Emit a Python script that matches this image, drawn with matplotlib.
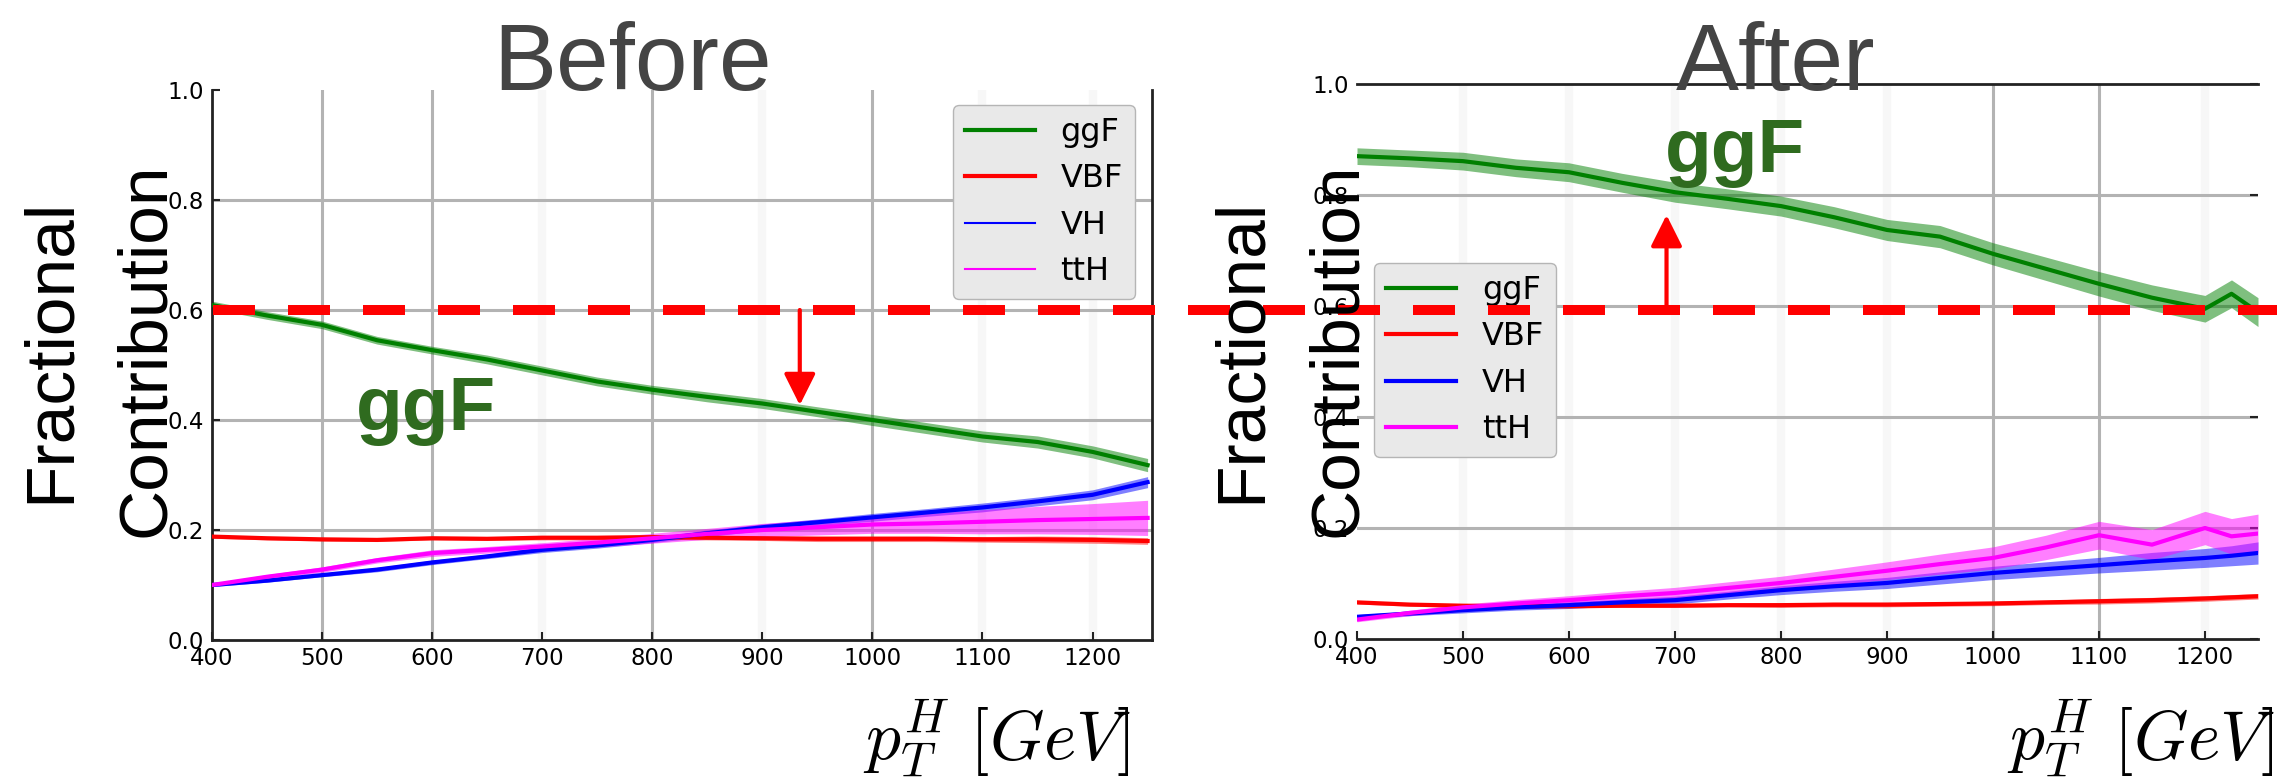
import matplotlib
matplotlib.use('Agg')
import matplotlib.pyplot as plt
import matplotlib.transforms as mtransforms
from matplotlib.lines import Line2D
import numpy as np

plt.rcParams['mathtext.fontset'] = 'cm'
plt.rcParams['font.family'] = 'DejaVu Sans'

W, H = 2277, 783

# ---- before: fractional contributions vs pT ----
pt_b = [400, 450, 500, 550, 600, 650, 700, 750, 800, 850, 900, 950, 1000, 1050, 1100, 1150, 1200, 1250]
ggf_b = [0.609, 0.590, 0.573, 0.545, 0.527, 0.510, 0.490, 0.470, 0.455, 0.442, 0.430, 0.415, 0.400, 0.385, 0.370, 0.360, 0.342, 0.318]
ggf_b_err = [0.007, 0.007, 0.007, 0.007, 0.007, 0.008, 0.008, 0.008, 0.008, 0.009, 0.009, 0.009, 0.010, 0.010, 0.010, 0.011, 0.011, 0.012]
vbf_b = [0.188, 0.185, 0.183, 0.182, 0.185, 0.184, 0.186, 0.186, 0.187, 0.186, 0.185, 0.184, 0.184, 0.184, 0.183, 0.183, 0.182, 0.180]
vbf_b_err = [0.003, 0.003, 0.003, 0.003, 0.003, 0.003, 0.004, 0.004, 0.004, 0.004, 0.004, 0.005, 0.005, 0.005, 0.005, 0.006, 0.006, 0.006]
vh_b = [0.100, 0.108, 0.118, 0.128, 0.141, 0.152, 0.164, 0.172, 0.182, 0.194, 0.205, 0.214, 0.223, 0.232, 0.241, 0.252, 0.264, 0.287]
vh_b_err = [0.003, 0.003, 0.003, 0.004, 0.004, 0.004, 0.005, 0.005, 0.005, 0.006, 0.006, 0.006, 0.007, 0.007, 0.008, 0.008, 0.009, 0.010]
tth_b = [0.100, 0.115, 0.128, 0.145, 0.158, 0.164, 0.170, 0.177, 0.185, 0.193, 0.200, 0.205, 0.210, 0.212, 0.215, 0.218, 0.220, 0.222]
tth_b_err = [0.003, 0.004, 0.005, 0.005, 0.006, 0.006, 0.007, 0.008, 0.009, 0.010, 0.012, 0.014, 0.016, 0.018, 0.022, 0.025, 0.028, 0.032]

# ---- after ----
pt_a = [400, 450, 500, 550, 600, 650, 700, 750, 800, 850, 900, 950, 1000, 1050, 1100, 1150, 1200, 1225, 1250]
ggf_a = [0.870, 0.866, 0.861, 0.849, 0.841, 0.822, 0.805, 0.793, 0.780, 0.760, 0.737, 0.725, 0.694, 0.667, 0.640, 0.615, 0.595, 0.622, 0.589]
ggf_a_err = [0.015, 0.015, 0.016, 0.016, 0.017, 0.017, 0.018, 0.018, 0.018, 0.019, 0.019, 0.020, 0.020, 0.021, 0.022, 0.023, 0.024, 0.025, 0.026]
vbf_a = [0.066, 0.062, 0.060, 0.059, 0.059, 0.060, 0.060, 0.061, 0.061, 0.062, 0.062, 0.063, 0.064, 0.066, 0.068, 0.070, 0.073, 0.075, 0.077]
vbf_a_err = [0.003, 0.003, 0.003, 0.003, 0.003, 0.003, 0.003, 0.003, 0.004, 0.004, 0.004, 0.004, 0.004, 0.004, 0.005, 0.005, 0.005, 0.005, 0.005]
vh_a = [0.040, 0.046, 0.052, 0.057, 0.061, 0.066, 0.070, 0.079, 0.088, 0.095, 0.101, 0.110, 0.119, 0.126, 0.133, 0.140, 0.146, 0.150, 0.155]
vh_a_err = [0.004, 0.004, 0.005, 0.005, 0.006, 0.006, 0.007, 0.007, 0.008, 0.009, 0.010, 0.011, 0.012, 0.013, 0.014, 0.016, 0.017, 0.018, 0.020]
tth_a = [0.035, 0.047, 0.057, 0.064, 0.070, 0.077, 0.083, 0.092, 0.101, 0.112, 0.123, 0.135, 0.146, 0.165, 0.187, 0.170, 0.200, 0.185, 0.190]
tth_a_err = [0.004, 0.005, 0.006, 0.007, 0.008, 0.009, 0.010, 0.011, 0.012, 0.014, 0.016, 0.018, 0.020, 0.022, 0.025, 0.027, 0.030, 0.032, 0.035]

xticks = [400, 500, 600, 700, 800, 900, 1000, 1100, 1200]
yticks = [0.0, 0.2, 0.4, 0.6, 0.8, 1.0]
names = ['ggF', 'VBF', 'VH', 'ttH']
cols = ['#008000', '#ff0000', '#0000ff', '#ff00ff']


def fx(px):
    return px / W


def fy(py):
    return 1 - py / H


fig = plt.figure(figsize=(W / 100, H / 100), dpi=100)
ax1 = fig.add_axes([fx(212), fy(640), fx(1152) - fx(212), fy(90) - fy(640)])
ax2 = fig.add_axes([fx(1357), fy(639), fx(2258) - fx(1357), fy(84) - fy(639)])


def panel(ax, x, series, errs, xmax, solid_vx, faint_vx):
    ax.set_xlim(400, xmax)
    ax.set_ylim(0, 1)
    for v in faint_vx:
        ax.axvline(v, color='#f7f7f7', lw=6, zorder=0)
    for v in solid_vx:
        ax.axvline(v, color='#b3b3b3', lw=2.2, zorder=0.5)
    for h in [0.2, 0.4, 0.6, 0.8]:
        ax.axhline(h, color='#b3b3b3', lw=2.2, zorder=0.5)
    x = np.array(x)
    for y, e, c in zip(series, errs, cols):
        y = np.array(y)
        e = np.array(e)
        ax.fill_between(x, y - e, y + e, color=c, alpha=0.5, lw=0, zorder=2)
        ax.plot(x, y, color=c, lw=3, zorder=3)
    ax.set_xticks(xticks)
    ax.set_yticks(yticks)
    ax.set_xticklabels([str(t) for t in xticks])
    ax.set_yticklabels(['%.1f' % t for t in yticks])
    ax.tick_params(direction='in', length=6, width=1.5, labelsize=16.5, color='#222222')
    ax.tick_params(axis='x', pad=5)
    ax.tick_params(axis='y', pad=6)


panel(ax1, pt_b, [ggf_b, vbf_b, vh_b, tth_b], [ggf_b_err, vbf_b_err, vh_b_err, tth_b_err],
      1254, [500, 600, 800, 1000], [700, 900, 1100, 1200])
panel(ax2, pt_a, [ggf_a, vbf_a, vh_a, tth_a], [ggf_a_err, vbf_a_err, vh_a_err, tth_a_err],
      1250, [1000, 1100], [500, 600, 700, 800, 900, 1200])

for s in ['left', 'bottom', 'right']:
    ax1.spines[s].set_linewidth(2)
    ax1.spines[s].set_color('#222222')
ax1.spines['top'].set_visible(False)
for s in ['top', 'bottom']:
    ax2.spines[s].set_linewidth(2)
    ax2.spines[s].set_color('#222222')
ax2.spines['left'].set_visible(False)
ax2.spines['right'].set_visible(False)
ax2.tick_params(axis='y', left=False, right=True, labelleft=True, labelright=False)

# legends
h1 = [Line2D([], [], color=c, lw=w) for c, w in zip(cols, [3, 3, 1.5, 1.5])]
h2 = [Line2D([], [], color=c, lw=3) for c in cols]
leg_kw = dict(fontsize=23, handlelength=2.2, handletextpad=0.8, labelspacing=0.48,
              borderpad=0.38, borderaxespad=0, facecolor='#e9e9e9', edgecolor='#b5b5b5',
              framealpha=1, bbox_transform=fig.transFigure)
l1 = ax1.legend(h1, names, loc='upper right', bbox_to_anchor=(fx(1135), fy(105)), **leg_kw)
l2 = ax2.legend(h2, names, loc='upper left', bbox_to_anchor=(fx(1374), fy(263)), **leg_kw)
l1.set_zorder(5)
l2.set_zorder(5)

# red dashed 0.6 reference line across both panels
tr = mtransforms.blended_transform_factory(fig.transFigure, ax1.transData)
fig.add_artist(Line2D([fx(213), 1.0], [0.6, 0.6], transform=tr, color='red',
                      lw=7.2, linestyle=(0, (4.2, 3.3)), zorder=2))

arrow = dict(arrowstyle='-|>', color='red', lw=3, mutation_scale=48, shrinkA=0, shrinkB=0)
ax1.annotate('', xy=(934, 0.427), xytext=(934, 0.6), arrowprops=arrow, zorder=6)
ax2.annotate('', xy=(692, 0.764), xytext=(692, 0.59), arrowprops=arrow, zorder=6)

# titles and labels
sans = 'Liberation Sans'
fig.text(fx(633), fy(90), 'Before', ha='center', va='baseline', fontsize=68, color='#444444', family=sans)
fig.text(fx(1776), fy(90), 'After', ha='center', va='baseline', fontsize=68, color='#444444', family=sans)

fig.text(fx(356), fy(430), 'ggF', ha='left', va='baseline', fontsize=55, fontweight='bold', color='#2f6b1f', family=sans)
fig.text(fx(1665), fy(172), 'ggF', ha='left', va='baseline', fontsize=55, fontweight='bold', color='#2f6b1f', family=sans)

for x0 in [51, 1242]:
    fig.text(fx(x0), fy(350), 'Fractional', rotation=90, ha='center', va='center', fontsize=50, family=sans)
for x0 in [146, 1338]:
    fig.text(fx(x0), fy(350), 'Contribution', rotation=90, ha='center', va='center', fontsize=50, family=sans)

for xr in [1131, 2275]:
    fig.text(fx(xr), fy(780), r'$p_T^H\ [GeV]$', ha='right', va='bottom', fontsize=50)

fig.savefig('out.png', dpi=100)
